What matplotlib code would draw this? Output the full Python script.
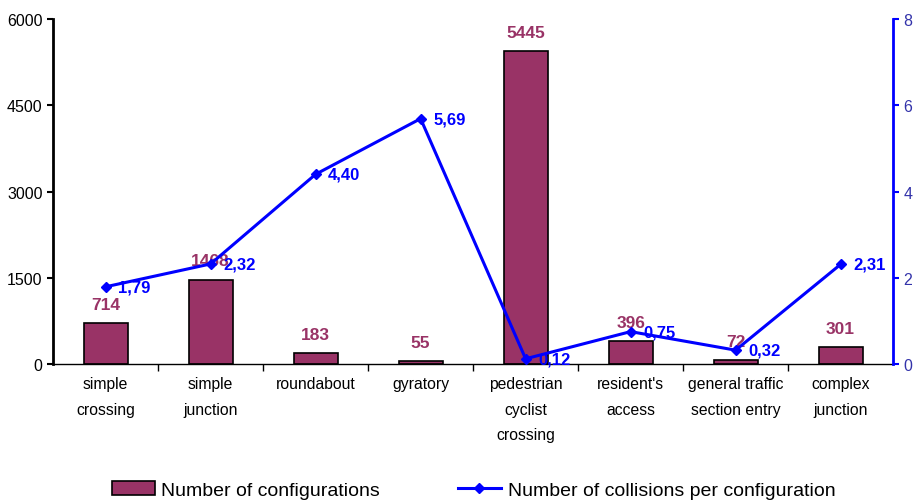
import matplotlib.pyplot as plt
import numpy as np

plt.rcParams['font.family'] = ['Liberation Sans', 'DejaVu Sans']

categories = ["simple\ncrossing", "simple\njunction", "roundabout", "gyratory",
              "pedestrian\ncyclist\ncrossing", "resident's\naccess",
              "general traffic\nsection entry", "complex\njunction"]
configs = [714, 1468, 183, 55, 5445, 396, 72, 301]
collisions = [1.79, 2.32, 4.40, 5.69, 0.12, 0.75, 0.32, 2.31]

bar_color = "#993366"
line_color = "#0000FF"

fig = plt.figure(figsize=(9.16, 5.02), dpi=100)
ax = fig.add_axes([0.058, 0.273, 0.917, 0.687])
x = np.arange(len(categories))

ax.bar(x, configs, width=0.42, color=bar_color, edgecolor="black",
       linewidth=1.2, label="Number of configurations", zorder=2)
ax.set_xlim(-0.5, len(categories) - 0.5)
ax.set_ylim(0, 6000)
ax.set_yticks([0, 1500, 3000, 4500, 6000])
ax.tick_params(axis="y", direction="out", length=4, width=1.5, labelsize=11.5)
ax.set_xticks(x)
ax.set_xticklabels(categories, fontsize=11.3, linespacing=1.85)
ax.tick_params(axis="x", length=0, pad=9)
ax.set_xticks(np.arange(0.5, len(categories) - 1, 1), minor=True)
ax.tick_params(axis="x", which="minor", length=5, width=1, direction="out")
ax.spines["top"].set_visible(False)
ax.spines["right"].set_visible(False)
ax.spines["left"].set_linewidth(2)
ax.spines["bottom"].set_linewidth(1)

for xi, v in zip(x, configs):
    ax.annotate(str(v), (xi, v), xytext=(0, 8), textcoords="offset points",
                ha="center", va="bottom", color=bar_color, fontsize=12.5,
                fontweight="bold")

ax2 = ax.twinx()
ax2.plot(x, collisions, color=line_color, linewidth=2.2, marker="D",
         markersize=5, label="Number of collisions per configuration", zorder=3)
ax2.set_ylim(0, 8)
ax2.set_yticks([0, 2, 4, 6, 8])
ax2.tick_params(axis="y", direction="out", length=4, width=1.5, labelsize=11.5,
                colors=line_color, labelcolor="#3333aa")
ax2.spines["right"].set_color(line_color)
ax2.spines["right"].set_linewidth(2)
ax2.spines["top"].set_visible(False)
ax2.spines["left"].set_visible(False)
ax2.spines["bottom"].set_visible(False)

for xi, v in zip(x, collisions):
    ax2.annotate(f"{v:.2f}".replace(".", ","), (xi, v), xytext=(9, 0),
                 textcoords="offset points", ha="left", va="center",
                 color=line_color, fontsize=12, fontweight="bold")

h1, l1 = ax.get_legend_handles_labels()
h2, l2 = ax2.get_legend_handles_labels()
fig.legend(h1 + h2, l1 + l2, loc="lower center", ncol=2, frameon=False,
           fontsize=14, bbox_to_anchor=(0.517, -0.03), columnspacing=4,
           handlelength=2.2, handletextpad=0.35)

fig.savefig("out.png", dpi=100)
